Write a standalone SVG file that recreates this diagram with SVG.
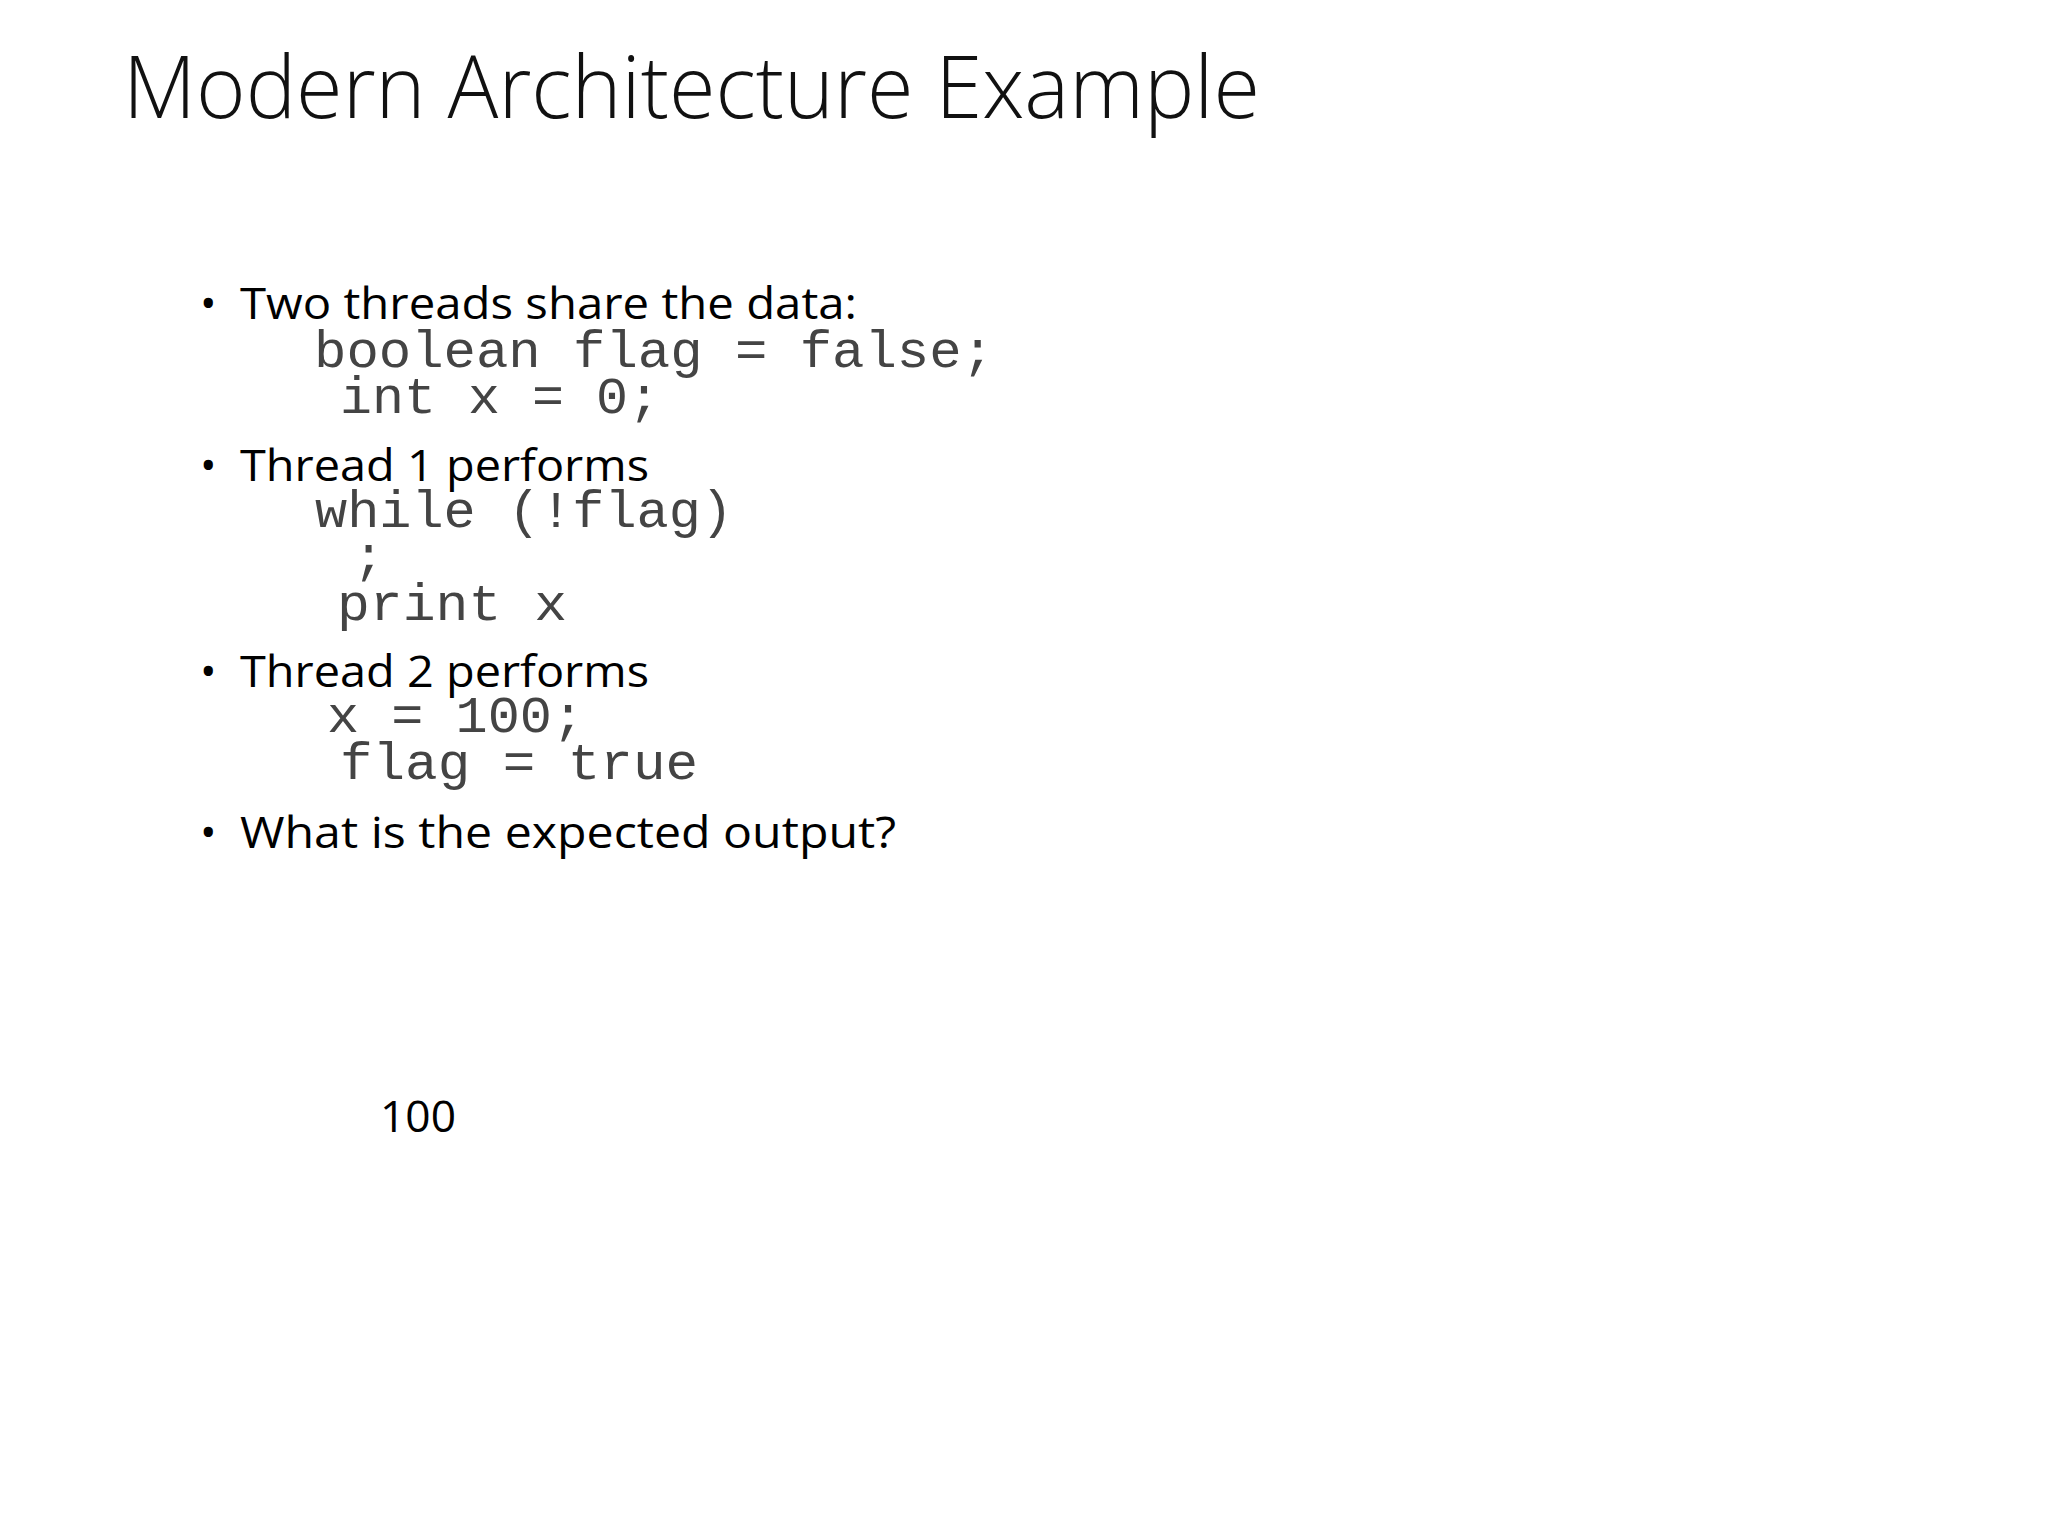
<svg xmlns="http://www.w3.org/2000/svg" width="2048" height="1536" viewBox="0 0 2048 1536">
<style>
.t{font-family:"Open Sans","Liberation Sans",sans-serif;font-weight:300;font-size:86px;fill:#111}
.b{font-family:"Open Sans","Liberation Sans",sans-serif;font-size:44px;fill:#000}
.c{font-family:"Liberation Mono","Courier New",monospace;font-size:52px;fill:#444}
</style>
<rect width="2048" height="1536" fill="#fff"/>
<g id="title"><text class="t" x="123" y="118" textLength="1137" lengthAdjust="spacingAndGlyphs">Modern Architecture Example</text></g>
<g id="body">
<text class="b" x="200" y="319">•</text>
<text class="b" x="240" y="319" textLength="617" lengthAdjust="spacingAndGlyphs">Two threads share the data:</text>
<text class="c" x="314" y="367" textLength="680" lengthAdjust="spacingAndGlyphs">boolean flag = false;</text>
<text class="c" x="340" y="413" textLength="320" lengthAdjust="spacingAndGlyphs">int x = 0;</text>
<text class="b" x="200" y="481">•</text>
<text class="b" x="240" y="481" textLength="409" lengthAdjust="spacingAndGlyphs">Thread 1 performs</text>
<text class="c" x="315" y="527" textLength="418" lengthAdjust="spacingAndGlyphs">while (!flag)</text>
<text class="c" x="353" y="572">;</text>
<text class="c" x="337" y="620" textLength="230" lengthAdjust="spacingAndGlyphs">print x</text>
<text class="b" x="200" y="687">•</text>
<text class="b" x="240" y="687" textLength="409" lengthAdjust="spacingAndGlyphs">Thread 2 performs</text>
<text class="c" x="327" y="732" textLength="257" lengthAdjust="spacingAndGlyphs">x = 100;</text>
<text class="c" x="340" y="779" textLength="358" lengthAdjust="spacingAndGlyphs">flag = true</text>
<text class="b" x="200" y="848">•</text>
<text class="b" x="240" y="848" textLength="656" lengthAdjust="spacingAndGlyphs">What is the expected output?</text>
</g>
<g id="answer"><text class="b" x="380" y="1132" textLength="76" lengthAdjust="spacingAndGlyphs">100</text></g>
</svg>
